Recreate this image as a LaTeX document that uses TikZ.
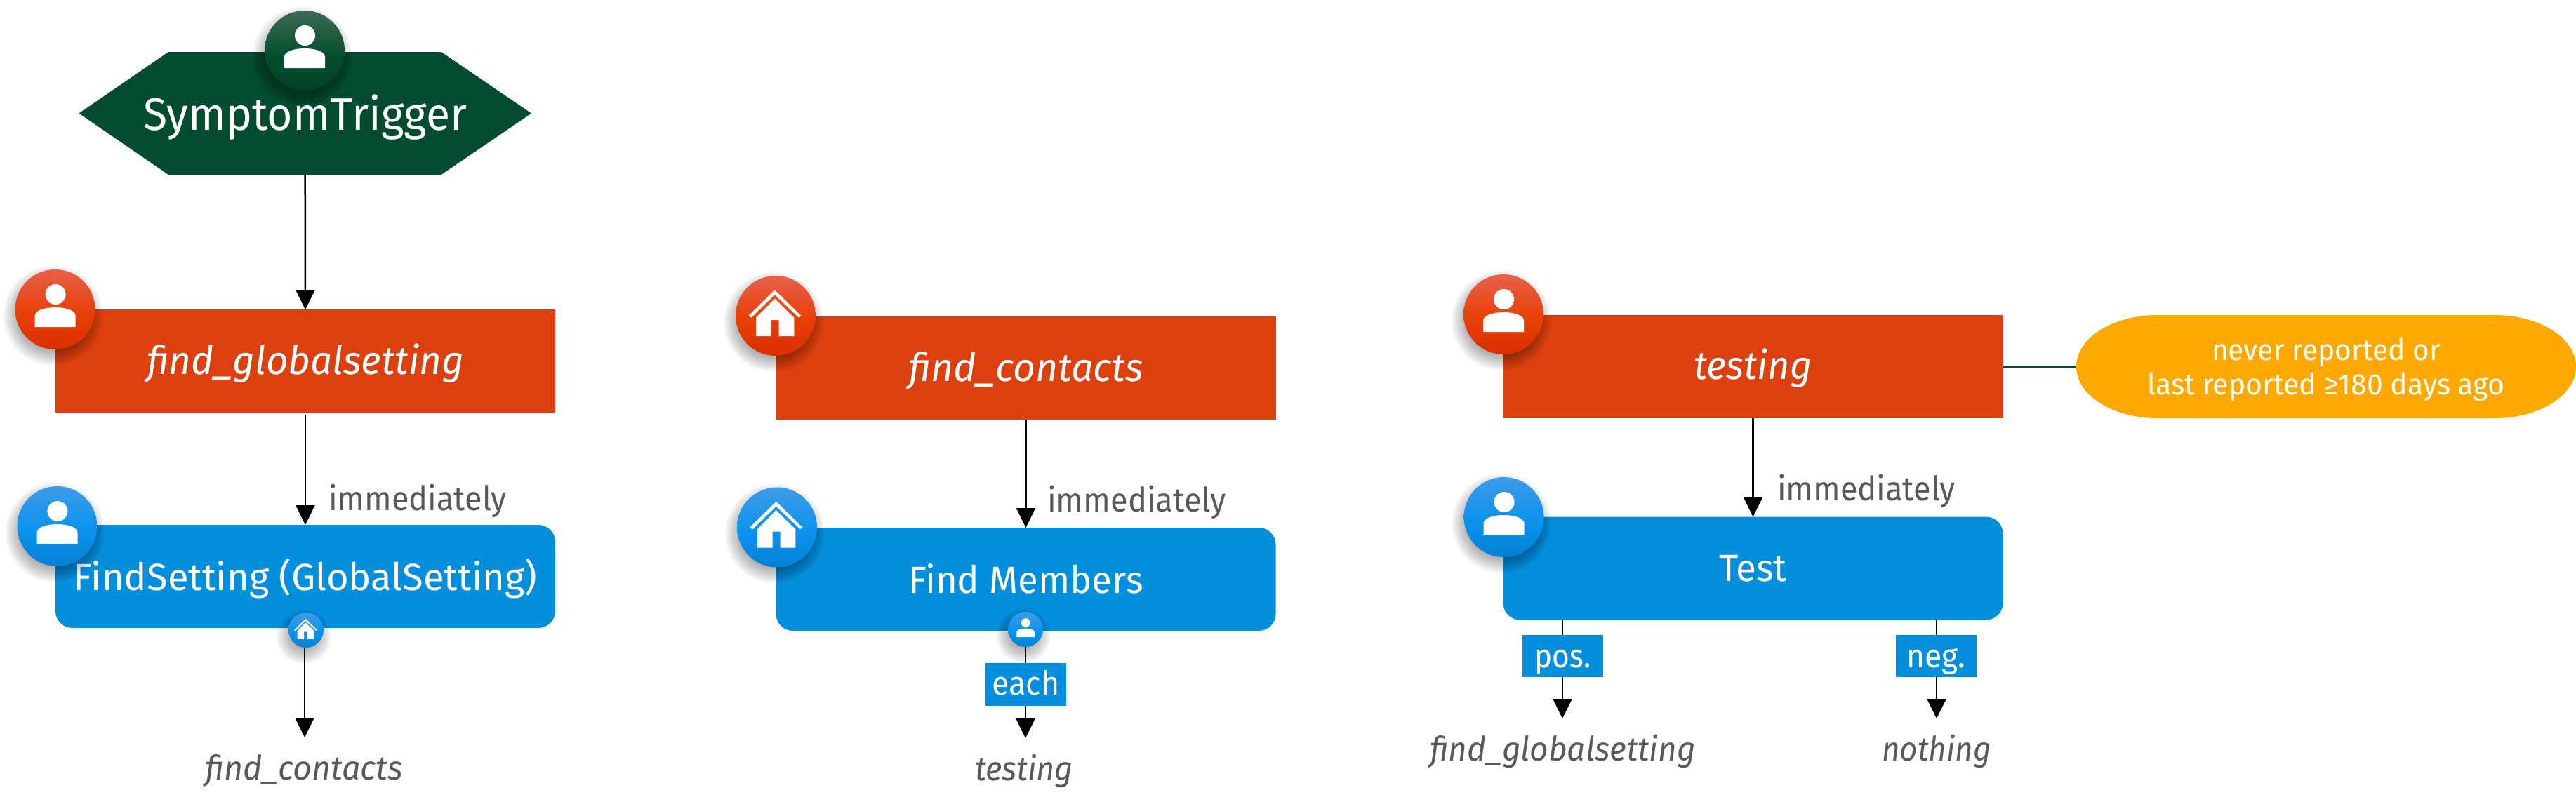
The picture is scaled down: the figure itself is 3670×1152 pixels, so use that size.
\documentclass[tikz,border=0pt]{standalone}
\usepackage{fontspec}
\usepackage{graphicx}
\setmainfont{Fira Sans}
\usetikzlibrary{arrows.meta}
\definecolor{cgreen}{HTML}{034C30}
\definecolor{cred}{HTML}{DD400F}
\definecolor{cblue}{HTML}{048FDD}
\definecolor{corange}{HTML}{FFA800}
\definecolor{cgray}{HTML}{595959}
\definecolor{rA}{HTML}{E8604A}\definecolor{rB}{HTML}{E83F05}\definecolor{rC}{HTML}{D83000}
\definecolor{bA}{HTML}{3E9BE8}\definecolor{bB}{HTML}{0A93EE}\definecolor{bC}{HTML}{0580D5}
\definecolor{gA}{HTML}{3F6A55}\definecolor{gB}{HTML}{044F2F}\definecolor{gC}{HTML}{034026}
\pgfdeclareverticalshading{redbadge}{100bp}{color(0bp)=(rC); color(25bp)=(rC); color(47bp)=(rB); color(75bp)=(rA); color(100bp)=(rA)}
\pgfdeclareverticalshading{bluebadge}{100bp}{color(0bp)=(bC); color(25bp)=(bC); color(47bp)=(bB); color(75bp)=(bA); color(100bp)=(bA)}
\pgfdeclareverticalshading{greenbadge}{100bp}{color(0bp)=(gC); color(25bp)=(gC); color(47bp)=(gB); color(75bp)=(gA); color(100bp)=(gA)}
\newcommand{\fitw}[2]{\resizebox{#1}{\height}{#2}}
\newcommand{\fsz}[1]{\fontsize{#1pt}{#1pt}\selectfont}
\tikzset{
  flow/.style={line width=2.5pt,black,-{Triangle[width=27pt,length=28pt]}},
  redbox/.style={rectangle,fill=cred,inner sep=0pt,outer sep=0pt,minimum width=712pt,minimum height=147pt,text=white,font=\fsz{56}\itshape},
  bluebox/.style={rectangle,rounded corners=24pt,fill=cblue,inner sep=0pt,outer sep=0pt,minimum width=712pt,minimum height=147pt,text=white,font=\fsz{54}},
  tagbox/.style={rectangle,fill=cblue,inner sep=0pt,outer sep=0pt,minimum width=115pt,text=white,font=\fsz{47}},
  graytext/.style={anchor=base,inner sep=0pt,text=cgray,font=\fsz{48}},
  grayit/.style={anchor=base,inner sep=0pt,text=cgray,font=\fsz{48}\itshape},
  basedrop/.style={text height=#1*2pt,text depth=0pt},
  badgedisc/.style={circle,inner sep=0pt,outer sep=0pt,draw=none,minimum size=#1*2pt},
}
% shadow: x y r
\newcommand{\softshadow}[3]{%
  \foreach \d in {-10,-8,...,14}{\fill[black,opacity=0.03] (#1-3,#2+9) circle[radius=#3+\d];}%
}
\newcommand{\personicon}[2]{%
  \begin{scope}[shift={(#1.center)},scale=#2]
    \fill[white] (0.5,-21.5) circle[radius=14.5];
    \fill[white] (-29,25) -- (-29,9) .. controls (-29,1) and (-14,-3) .. (0,-3) .. controls (14,-3) and (29,1) .. (29,9) -- (29,25) -- cycle;
  \end{scope}}
\newcommand{\houseicon}[2]{%
  \begin{scope}[shift={(#1.center)},scale=#2]
    \fill[white] (-1.3,-36.7) -- (36.3,0) -- (33,2.7) -- (-1.3,-30) -- (-34.7,2.7) -- (-38.7,0) -- cycle;
    \fill[white] (-1.3,-24.3) -- (26.3,2.7) -- (26.3,29) -- (4.7,29) -- (4.7,6) -- (-6.3,6) -- (-6.3,29) -- (-28,29) -- (-28,2.7) -- cycle;
  \end{scope}}
\begin{document}
\begin{tikzpicture}[x=1pt,y=-1pt]
\useasboundingbox (0,0) rectangle (3670,1152);

%% ---- column 1
\fill[cgreen] (240,74) -- (628.6,74) -- (757,161.5) -- (628.6,249) -- (240,249) -- (112.5,161.5) -- cycle;
\node[rectangle,inner sep=0pt,outer sep=0pt,minimum width=645pt,minimum height=175pt,text=white,font=\fsz{65},basedrop=23.5] (trigger) at (434.7,161.5) {\fitw{461pt}{SymptomTrigger}};
\node[redbox,basedrop=19] (fgs) at (435,514.8) {\fitw{452pt}{find\_globalsetting}};
\node[bluebox,basedrop=19.5] (findset) at (435,821.5) {\fitw{660pt}{FindSetting (GlobalSetting)}};
\draw[flow] (trigger.south) -- (fgs.north);
\draw[flow,shorten <=3.5pt] (fgs.south) -- (findset.north);
\node[graytext] (imm1) at (595,727.5) {\fitw{254pt}{immediately}};
\softshadow{434}{72}{57}
\node[badgedisc=57,shading=greenbadge] (bTrigger) at (434,72) {};
\personicon{bTrigger}{1}
\softshadow{78.6}{441}{57}
\node[badgedisc=57,shading=redbadge] (bFgs) at (78.6,441) {};
\personicon{bFgs}{1}
\softshadow{81.5}{750}{57}
\node[badgedisc=57,shading=bluebadge] (bFind) at (81.5,750) {};
\personicon{bFind}{1}
\softshadow{436}{898}{25}
\node[badgedisc=25,shading=bluebadge] (sHome) at (436,898) {};
\houseicon{sHome}{0.44}
\coordinate (tipA) at (434,1051);
\draw[flow] (tipA |- sHome.south) -- (tipA);
\node[grayit] (tContacts) at (433,1111) {\fitw{282pt}{find\_contacts}};

%% ---- column 2
\node[redbox,basedrop=19] (fc) at (1461.5,524) {\fitw{335pt}{find\_contacts}};
\node[bluebox,basedrop=19.5] (members) at (1461.5,825.5) {\fitw{335pt}{Find Members}};
\draw[flow] (fc.south) -- (members.north);
\node[graytext] (imm2) at (1619.5,729) {\fitw{255pt}{immediately}};
\softshadow{1105}{450}{57}
\node[badgedisc=57,shading=redbadge] (bFc) at (1105,450) {};
\houseicon{bFc}{1}
\softshadow{1107}{751.5}{57}
\node[badgedisc=57,shading=bluebadge] (bMem) at (1107,751.5) {};
\houseicon{bMem}{1}
\softshadow{1461}{897}{25}
\node[badgedisc=25,shading=bluebadge] (sPerson) at (1461,897) {};
\personicon{sPerson}{0.44}
\coordinate (tipB) at (1461,1052);
\draw[flow] (sPerson.south) -- (tipB);
\node[tagbox,minimum height=61pt,basedrop=14.5] (each) at (1461.5,975.5) {\fitw{96pt}{each}};
\node[grayit] (tTesting) at (1459,1112) {\fitw{140pt}{testing}};

%% ---- column 3
\node[redbox,basedrop=17.5] (tst) at (2497.5,522.5) {\fitw{168pt}{testing}};
\node[bluebox,basedrop=18] (test) at (2497.5,810) {\fitw{97pt}{Test}};
\draw[flow] (tst.south) -- (test.north);
\node[graytext] (imm3) at (2659,713) {\fitw{254pt}{immediately}};
\softshadow{2142}{448}{57}
\node[badgedisc=57,shading=redbadge] (bTst) at (2142,448) {};
\personicon{bTst}{1}
\softshadow{2142.5}{737}{57}
\node[badgedisc=57,shading=bluebadge] (bTest) at (2142.5,737) {};
\personicon{bTest}{1}
\coordinate (tipC) at (2226,1024);
\coordinate (tipD) at (2759,1024);
\draw[flow] (tipC |- test.south) -- (tipC);
\draw[flow] (tipD |- test.south) -- (tipD);
\node[tagbox,minimum height=60pt,basedrop=16] (pos) at (2226.5,935) {\fitw{80pt}{pos.}};
\node[tagbox,minimum height=60pt,basedrop=16] (neg) at (2758.5,935) {\fitw{84pt}{neg.}};
\node[grayit] (tFgs) at (2226.5,1084) {\fitw{379pt}{find\_globalsetting}};
\node[grayit] (tNothing) at (2759,1084) {\fitw{156pt}{nothing}};

%% ---- condition callout
\fill[corange] (3074,449) -- (3554,449) arc[start angle=-90,end angle=90,x radius=116,y radius=73.5] -- (3074,596) arc[start angle=90,end angle=270,x radius=116,y radius=73.5] -- cycle;
\node[rectangle,inner sep=0pt,outer sep=0pt,minimum width=712pt,minimum height=147pt,text=white,align=center,font=\fontsize{42pt}{49pt}\selectfont] (cond) at (3314,527) {\fitw{326pt}{never reported or}\\\fitw{509pt}{last reported ≥180 days ago}};
\draw[line width=2.5pt,cgreen] (tst.east) -- (tst.east -| cond.west);
\end{tikzpicture}
\end{document}
